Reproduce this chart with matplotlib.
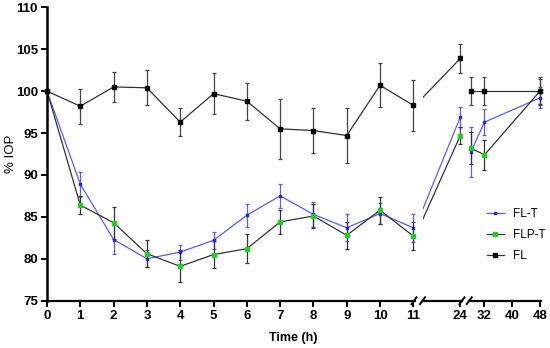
import numpy as np
import matplotlib
matplotlib.use("Agg")
import matplotlib.pyplot as plt
from matplotlib.lines import Line2D

plt.rcParams['font.family'] = ['Liberation Sans', 'DejaVu Sans']

# tiempos (h) y valores de %IOP
hours = np.array([0, 1, 2, 3, 4, 5, 6, 7, 8, 9, 10, 11, 24, 28, 32, 48])

fl_t = np.array([100, 88.9, 82.3, 80.0, 80.8, 82.2, 85.2, 87.5, 85.3, 83.7, 85.4, 83.7, 96.9, 92.7, 96.3, 99.2])
fl_t_err = np.array([0, 1.5, 1.7, 1.0, 0.9, 1.05, 1.35, 1.4, 1.5, 1.6, 1.2, 1.65, 1.15, 3.0, 1.55, 1.25])

flp_t = np.array([100, 86.4, 84.3, 80.6, 79.1, 80.5, 81.2, 84.4, 85.1, 82.8, 85.8, 82.7, 94.7, 93.2, 92.4, 100.0])
flp_t_err = np.array([0, 1.1, 1.9, 1.6, 1.9, 1.6, 1.7, 1.4, 1.4, 1.6, 1.6, 1.7, 1.0, 1.9, 1.75, 1.5])

fl = np.array([100, 98.2, 100.5, 100.4, 96.3, 99.7, 98.8, 95.5, 95.3, 94.7, 100.7, 98.3, 103.9, 100.0, 100.0, 100.0])
fl_err = np.array([0, 2.1, 1.75, 2.1, 1.65, 2.45, 2.2, 3.6, 2.7, 3.3, 2.65, 3.0, 1.7, 1.65, 1.65, 1.65])

series = [
    ('FL-T', fl_t, fl_t_err, '#5a5aff', '#2020ee', '#5a5aff', 2.0),
    ('FLP-T', flp_t, flp_t_err, '#333333', '#22cc22', '#333333', 3.3),
    ('FL', fl, fl_err, '#333333', '#000000', '#444444', 2.6),
]

W, H = 550, 348
y_top, y_bot = 7.3, 300.7

fig = plt.figure(figsize=(W / 100, H / 100), dpi=100)


def add_seg(x0, x1, xlim):
    ax = fig.add_axes([x0 / W, 1 - y_bot / H, (x1 - x0) / W, (y_bot - y_top) / H])
    ax.set_xlim(*xlim)
    ax.set_ylim(75, 110)
    for s in ['top', 'right']:
        ax.spines[s].set_visible(False)
    ax.spines['bottom'].set_linewidth(1.6)
    ax.spines['left'].set_linewidth(1.8)
    ax.patch.set_alpha(0)
    ax.tick_params(width=1.4, length=4, labelsize=9.5, pad=2.5)
    return ax


ax1 = add_seg(47, 415, (0, 11.05))
ax2 = add_seg(422.5, 462, (13.1, 24.49))
ax3 = add_seg(469.2, 541, (27.59, 48.29))

ax1.set_xticks(range(0, 12))
ax1.set_yticks(range(75, 111, 5))
ax2.set_xticks([24])
ax3.set_xticks([32, 40, 48])
for ax in (ax2, ax3):
    ax.spines['left'].set_visible(False)
    ax.tick_params(axis='y', left=False, labelleft=False)
for ax in (ax1, ax2, ax3):
    for lab in ax.get_xticklabels() + ax.get_yticklabels():
        lab.set_fontweight('bold')

masks = [(ax1, hours <= 11, False), (ax2, (hours >= 11) & (hours <= 24), True), (ax3, hours >= 28, False)]

handles = []
for name, vals, err, lc, mc, ec, ms in series:
    for ax, m, clip in masks:
        cont = ax.errorbar(hours[m], vals[m], yerr=err[m], color=lc, lw=0.9,
                           marker='s', ms=ms, mfc=mc, mec=mc, ecolor=ec,
                           elinewidth=0.9, capsize=1.6, capthick=0.9, clip_on=clip)
        for art in cont.lines[1] + cont.lines[2]:
            art.set_clip_on(clip)
        if ax is ax1:
            handles.append(cont.lines[0])

# marcas de corte del eje x
for cx in [414, 422.5, 462, 469.2]:
    fig.add_artist(Line2D([(cx - 2.5) / W, (cx + 2.5) / W],
                          [1 - (y_bot + 3.4) / H, 1 - (y_bot - 3.4) / H],
                          color='black', lw=1.4))

fig.text(293.5 / W, 1 - 338 / H, 'Time (h)', ha='center', va='center',
         fontsize=9, fontweight='bold')
fig.text(11 / W, 1 - 154 / H, '% IOP', ha='center', va='center',
         rotation=90, fontsize=9.5)

fig.legend(handles, [s[0] for s in series], loc='upper left',
           bbox_to_anchor=(487 / W, 1 - 208 / H), frameon=False,
           fontsize=8.5, handlelength=1.4, handletextpad=0.8,
           labelspacing=0.75, borderpad=0, borderaxespad=0)

fig.savefig('out.png', dpi=100)
